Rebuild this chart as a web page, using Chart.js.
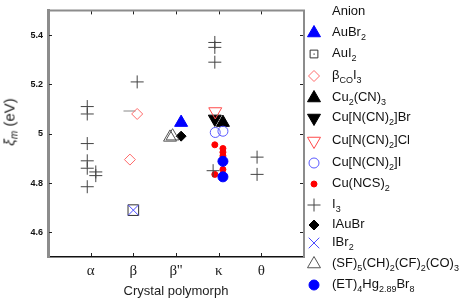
<!DOCTYPE html>
<html>
<head>
<meta charset="utf-8">
<script src="https://cdn.jsdelivr.net/npm/chart.js@4/dist/chart.umd.min.js"></script>
<style>
  body { margin: 0; background: #fff; }
  #wrap { position: relative; width: 474px; height: 300px; }
  .leg { position: absolute; left: 332px; font: 13px "Liberation Sans", Arial, sans-serif; color: #111; white-space: nowrap; line-height: 14px; }
  .leg sub { font-size: 9px; vertical-align: -4px; line-height: 0; }
  #ytitle { position: absolute; left: 10px; top: 122px; transform: translate(-50%, -50%) rotate(-90deg); font: 15px "Liberation Sans", Arial, sans-serif; color: #222; white-space: nowrap; }
  #ytitle sub { font-size: 10px; vertical-align: -3px; font-style: italic; }
</style>
</head>
<body>
<div id="wrap">
  <canvas id="chart" width="474" height="300"></canvas>
  <div id="ytitle"><i>ξ</i><sub>m</sub> (eV)</div>
</div>
<script>
const categories = ["α", "β", "β''", "κ", "θ"];
const yTicks = [4.6, 4.8, 5, 5.2, 5.4];
const yTickLabels = ["4.6", "4.8", "5", "5.2", "5.4"];

// values per anion; *Jit = small horizontal spread inside a category
const auBr2Cat = ["β''"], auBr2Val = [5.045], auBr2Jit = [0.12];
const auI2Cat = ["β"], auI2Val = [4.69], auI2Jit = [0];
const betaCoCat = ["β", "β"], betaCoVal = [5.08, 4.895], betaCoJit = [0.09, -0.08];
const cu2Cat = ["κ"], cu2Val = [5.045], cu2Jit = [0.1];
const cuBrCat = ["κ"], cuBrVal = [5.06], cuBrJit = [-0.09];
const cuClCat = ["κ"], cuClVal = [5.09], cuClJit = [-0.08];
const cuICat = ["κ", "κ"], cuIVal = [5.005, 5.01], cuIJit = [-0.08, 0.1];
const ncsCat = ["κ", "κ", "κ", "κ", "κ", "κ"];
const ncsVal = [4.955, 4.94, 4.925, 4.91, 4.855, 4.835];
const ncsJit = [-0.09, 0.1, 0.1, 0.1, 0.1, -0.09];
const i3Cat = ["α", "α", "α", "α", "α", "α", "α", "α", "β", "κ", "κ", "κ", "κ", "θ", "θ"];
const i3Val = [5.11, 5.08, 4.96, 4.89, 4.86, 4.845, 4.83, 4.785, 5.21, 5.37, 5.35, 5.29, 4.85, 4.905, 4.835];
const i3Jit = [-0.08, -0.08, -0.08, -0.08, -0.08, 0.12, 0.12, -0.08, 0.09, -0.09, -0.09, -0.09, -0.13, -0.1, -0.1];
const iAuBrCat = ["β''"], iAuBrVal = [4.99], iAuBrJit = [0.12];
const iBr2Cat = ["β"], iBr2Val = [4.69], iBr2Jit = [0];
const sfCat = ["β''", "β''"], sfVal = [4.985, 4.99], sfJit = [-0.14, -0.08];
const etCat = ["κ", "κ"], etVal = [4.888, 4.825], etJit = [0.1, 0.1];
const dashCat = ["β"], dashVal = [5.092], dashJit = [-0.09];

const series = [
  { name: "AuBr<sub>2</sub>", cat: auBr2Cat, val: auBr2Val, jit: auBr2Jit, style: "triangle", r: 7.5, fill: "#0000ff", line: "#0000ff" },
  { name: "AuI<sub>2</sub>", cat: auI2Cat, val: auI2Val, jit: auI2Jit, style: "rect", r: 7.5, fill: "rgba(0,0,0,0)", line: "#333", lr: 5.5 },
  { name: "β<sub>CO</sub>I<sub>3</sub>", cat: betaCoCat, val: betaCoVal, jit: betaCoJit, style: "rectRot", r: 5.5, fill: "rgba(0,0,0,0)", line: "#ff6a6a" },
  { name: "Cu<sub>2</sub>(CN)<sub>3</sub>", cat: cu2Cat, val: cu2Val, jit: cu2Jit, style: "triangle", r: 7.5, fill: "#000", line: "#000" },
  { name: "Cu[N(CN)<sub>2</sub>]Br", cat: cuBrCat, val: cuBrVal, jit: cuBrJit, style: "triangle", rot: 180, r: 7.5, fill: "#000", line: "#000" },
  { name: "Cu[N(CN)<sub>2</sub>]Cl", cat: cuClCat, val: cuClVal, jit: cuClJit, style: "triangle", rot: 180, r: 7.5, fill: "rgba(0,0,0,0)", line: "#ff4a4a" },
  { name: "Cu[N(CN)<sub>2</sub>]I", cat: cuICat, val: cuIVal, jit: cuIJit, style: "circle", r: 5, fill: "rgba(0,0,0,0)", line: "#5a5aff" },
  { name: "Cu(NCS)<sub>2</sub>", cat: ncsCat, val: ncsVal, jit: ncsJit, style: "circle", r: 3, fill: "#ff0000", line: "#ff0000" },
  { name: "I<sub>3</sub>", cat: i3Cat, val: i3Val, jit: i3Jit, style: "cross", r: 6.5, fill: "rgba(0,0,0,0)", line: "#444" },
  { name: "IAuBr", cat: iAuBrCat, val: iAuBrVal, jit: iAuBrJit, style: "rectRot", r: 5, fill: "#000", line: "#000" },
  { name: "IBr<sub>2</sub>", cat: iBr2Cat, val: iBr2Val, jit: iBr2Jit, style: "crossRot", r: 7.5, fill: "rgba(0,0,0,0)", line: "#4a4aff" },
  { name: "(SF)<sub>5</sub>(CH)<sub>2</sub>(CF)<sub>2</sub>(CO)<sub>3</sub>", cat: sfCat, val: sfVal, jit: sfJit, style: "triangle", r: 7.5, fill: "rgba(0,0,0,0)", line: "#555" },
  { name: "(ET)<sub>4</sub>Hg<sub>2.89</sub>Br<sub>8</sub>", cat: etCat, val: etVal, jit: etJit, style: "circle", r: 5, fill: "#0000ff", line: "#0000ff" },
];
const extra = { cat: dashCat, val: dashVal, jit: dashJit, style: "line", r: 6, fill: "rgba(0,0,0,0)", line: "#888" };

// legend rows (centre y of each marker)
const legendTop = [33, 54, 76, 98, 118, 141, 163, 184, 205, 225, 243, 264, 285];

function toPoints(s) {
  return s.val.map((v, i) => ({ x: categories.indexOf(s.cat[i]) + 1 + s.jit[i], y: v }));
}

const datasets = [extra].concat(series).map((s, i) => ({
  data: toPoints(s),
  pointStyle: s.style,
  pointRadius: s.r,
  pointRotation: s.rot || 0,
  pointBackgroundColor: s.fill,
  pointBorderColor: s.line,
  pointBorderWidth: 1,
  showLine: false,
  order: 20 - i,
}));

const frame = {
  id: "frame",
  afterDraw(chart) {
    const { ctx, chartArea: a, scales } = chart;
    ctx.save();
    ctx.strokeStyle = "#8c8c8c";
    ctx.lineWidth = 2;
    ctx.beginPath();
    ctx.moveTo(a.left, a.top);
    ctx.lineTo(a.right, a.top);
    ctx.lineTo(a.right, a.bottom);
    ctx.stroke();
    ctx.strokeStyle = "#222";
    ctx.lineWidth = 1;
    ctx.beginPath();
    yTicks.forEach((v) => {
      const py = Math.round(scales.y.getPixelForValue(v)) + 0.5;
      ctx.moveTo(a.left + 1, py); ctx.lineTo(a.left + 4, py);
      ctx.moveTo(a.right - 4, py); ctx.lineTo(a.right - 1, py);
    });
    categories.forEach((c, i) => {
      const px = Math.round(scales.x.getPixelForValue(i + 1)) + 0.5;
      ctx.moveTo(px, a.top + 1); ctx.lineTo(px, a.top + 4);
      ctx.moveTo(px, a.bottom - 1); ctx.lineTo(px, a.bottom - 4);
    });
    ctx.stroke();
    // legend markers
    series.forEach((s, i) => {
      ctx.fillStyle = s.fill;
      ctx.strokeStyle = s.line;
      ctx.lineWidth = 1;
      Chart.helpers.drawPoint(ctx, { pointStyle: s.style, radius: s.lr || s.r, rotation: s.rot || 0, borderWidth: 1 }, 314, legendTop[i]);
    });
    // small dot inside the AuI2 legend square
    ctx.fillStyle = "#333";
    ctx.fillRect(313.5, legendTop[1] - 0.5, 1.2, 1.2);
    ctx.restore();
  },
};

new Chart(document.getElementById("chart"), {
  type: "scatter",
  data: { datasets },
  options: {
    responsive: false,
    animation: false,
    layout: { padding: { left: 0, right: 170, top: 4, bottom: 0 } },
    plugins: { legend: { display: false }, tooltip: { enabled: false } },
    scales: {
      x: {
        type: "linear",
        min: 0,
        max: 6,
        afterBuildTicks: (s) => { s.ticks = categories.map((c, i) => ({ value: i + 1 })); },
        afterFit: (s) => { s.height = 43; },
        grid: { display: false, drawTicks: false },
        border: { color: "#111", width: 1.5 },
        ticks: {
          callback: (v) => categories[v - 1],
          color: "#222",
          padding: 5,
          maxRotation: 0,
          font: { family: "Liberation Serif", size: 15 },
        },
        title: {
          display: true,
          text: "Crystal polymorph",
          color: "#222",
          padding: { top: 0, bottom: 1 },
          font: { family: "Liberation Sans", size: 13 },
        },
      },
      y: {
        min: 4.5,
        max: 5.5,
        afterBuildTicks: (s) => { s.ticks = yTicks.map((v) => ({ value: v })); },
        afterFit: (s) => { s.width = 48; },
        grid: { display: false, drawTicks: false },
        border: { color: "#8c8c8c", width: 3 },
        ticks: {
          callback: (v) => yTickLabels[yTicks.indexOf(v)],
          color: "#111",
          padding: 5,
          font: { family: "Liberation Sans", size: 9, weight: "bold" },
        },
      },
    },
  },
  plugins: [frame],
});

// legend text as html
const wrap = document.getElementById("wrap");
const head = document.createElement("div");
head.className = "leg";
head.style.top = "4px";
head.textContent = "Anion";
wrap.appendChild(head);
series.forEach((s, i) => {
  const d = document.createElement("div");
  d.className = "leg";
  d.style.top = legendTop[i] - 8 + "px";
  d.innerHTML = s.name;
  wrap.appendChild(d);
});
</script>
</body>
</html>
